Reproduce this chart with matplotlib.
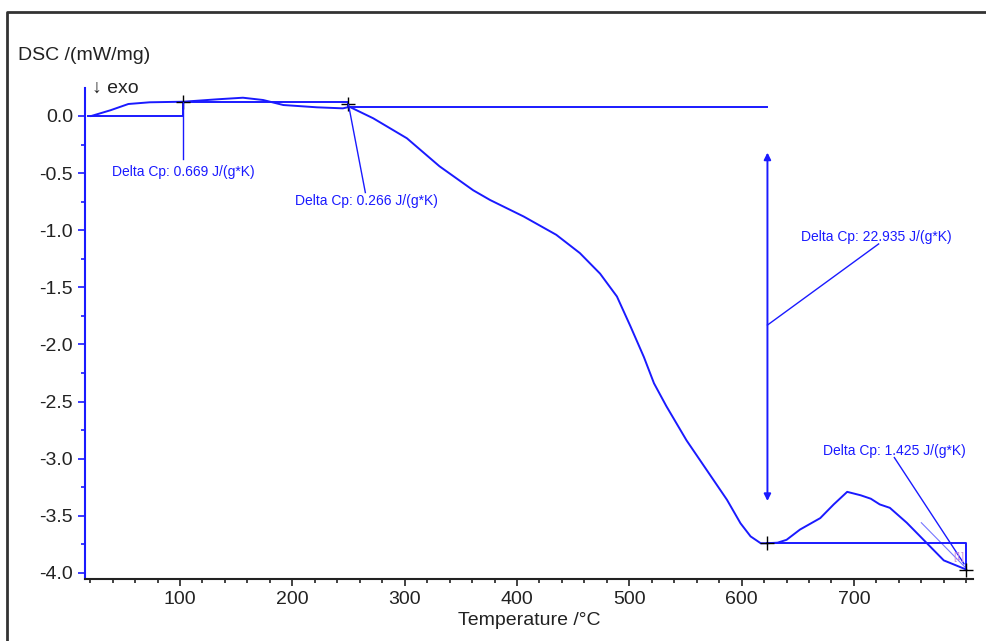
import matplotlib.pyplot as plt
from matplotlib.lines import Line2D
import numpy as np

plt.rcParams["font.family"] = ["Liberation Sans", "DejaVu Sans"]
plt.rcParams["axes.unicode_minus"] = False

# --- DSC curve ---
temp = [21, 38, 54, 73, 103, 133, 156, 174, 192, 222, 245, 251, 272, 302,
        331, 361, 376, 406, 435, 456, 474, 489, 501, 513, 522, 533, 551,
        569, 587, 599, 608, 617, 622, 632, 640, 652, 670, 682, 694, 706,
        715, 723, 732, 747, 765, 780, 795, 800]
dsc = [0.00, 0.05, 0.105, 0.12, 0.125, 0.146, 0.16, 0.14, 0.096, 0.076,
       0.067, 0.08, -0.02, -0.195, -0.44, -0.65, -0.735, -0.88, -1.04,
       -1.20, -1.38, -1.58, -1.84, -2.11, -2.34, -2.54, -2.84, -3.10,
       -3.36, -3.565, -3.68, -3.74, -3.74, -3.735, -3.71, -3.62, -3.52,
       -3.40, -3.29, -3.32, -3.35, -3.40, -3.43, -3.56, -3.74, -3.89,
       -3.95, -3.97]

# --- Delta Cp evaluations ---
cp_labels = ["Delta Cp: 0.669 J/(g*K)", "Delta Cp: 0.266 J/(g*K)",
             "Delta Cp: 22.935 J/(g*K)", "Delta Cp: 1.425 J/(g*K)"]
step1 = ([18, 103, 103, 250, 250, 623], [0.0, 0.0, 0.125, 0.125, 0.081, 0.081])
step2 = ([623, 800, 800], [-3.74, -3.74, -3.97])
marks_t = [103, 250, 622.5, 800]
marks_d = [0.125, 0.105, -3.74, -3.97]

blue = "#1a1aff"

fig = plt.figure(figsize=(9.86, 6.41), dpi=100)
ax = fig.add_axes([0.0862, 0.0967, 0.9006, 0.766])

ax.plot(temp, dsc, color=blue, lw=1.4)
ax.plot(*step1, color=blue, lw=1.4)
ax.plot(*step2, color=blue, lw=1.4)
ax.plot(marks_t, marks_d, "k+", ms=10, mew=1.0)

# leaders + labels
ax.plot([103, 103], [0.125, -0.38], color=blue, lw=1)
ax.text(103, -0.49, cp_labels[0], color=blue, fontsize=10, ha="center", va="center")
ax.plot([250, 265], [0.1, -0.67], color=blue, lw=1)
ax.text(266, -0.745, cp_labels[1], color=blue, fontsize=10, ha="center", va="center")

ax.annotate("", xy=(623, -0.32), xytext=(623, -3.37),
            arrowprops=dict(arrowstyle="<|-|>", color=blue, lw=1.4,
                            mutation_scale=10, shrinkA=0, shrinkB=0))
ax.plot([623, 722], [-1.83, -1.12], color=blue, lw=1)
ax.text(720, -1.06, cp_labels[2], color=blue, fontsize=10, ha="center", va="center")

ax.plot([736, 798], [-2.99, -3.92], color=blue, lw=1)
ax.plot([760, 799], [-3.56, -3.95], color=blue, lw=0.8, alpha=0.6)
ax.text(736, -2.93, cp_labels[3], color=blue, fontsize=10, ha="center", va="center")
ax.text(793, -3.86, "[1]", color="#cc88dd", fontsize=7, ha="center", va="center")

ax.set_xlim(15.4, 806)
ax.set_ylim(-4.053, 0.245)
ax.set_xticks([100, 200, 300, 400, 500, 600, 700])
ax.set_xticks(np.arange(20, 801, 20), minor=True)
ax.set_yticks(np.arange(-4.0, 0.01, 0.5))
ax.set_yticks(np.arange(-4.0, 0.01, 0.25), minor=True)
ax.yaxis.set_major_formatter(plt.FormatStrFormatter("%.1f"))

for s in ("top", "right"):
    ax.spines[s].set_visible(False)
ax.spines["left"].set_color(blue)
ax.spines["left"].set_linewidth(1.5)
ax.spines["bottom"].set_color("#222222")
ax.spines["bottom"].set_linewidth(1.5)
ax.tick_params(axis="y", which="both", colors=blue, labelcolor="#222222",
               labelsize=14, width=1.2)
ax.tick_params(axis="y", which="major", length=5)
ax.tick_params(axis="y", which="minor", length=3)
ax.tick_params(axis="x", which="both", colors="#222222", labelsize=14, width=1.2)
ax.tick_params(axis="x", which="major", length=5)
ax.tick_params(axis="x", which="minor", length=3)

ax.set_xlabel("Temperature /°C", fontsize=14, color="#222222", labelpad=3)
fig.text(18 / 986, 1 - 55 / 641, "DSC /(mW/mg)", fontsize=14, color="#222222",
         va="center", ha="left")
fig.text(92 / 986, 1 - 88 / 641, "↓ exo", fontsize=14, color="#222222",
         va="center", ha="left")

# outer frame (left and top edges)
fig.add_artist(Line2D([7 / 986, 7 / 986, 1.0], [0.0, 1 - 12 / 641, 1 - 12 / 641],
                      transform=fig.transFigure, color="#333333", lw=2))

fig.savefig("out.png", dpi=100)
